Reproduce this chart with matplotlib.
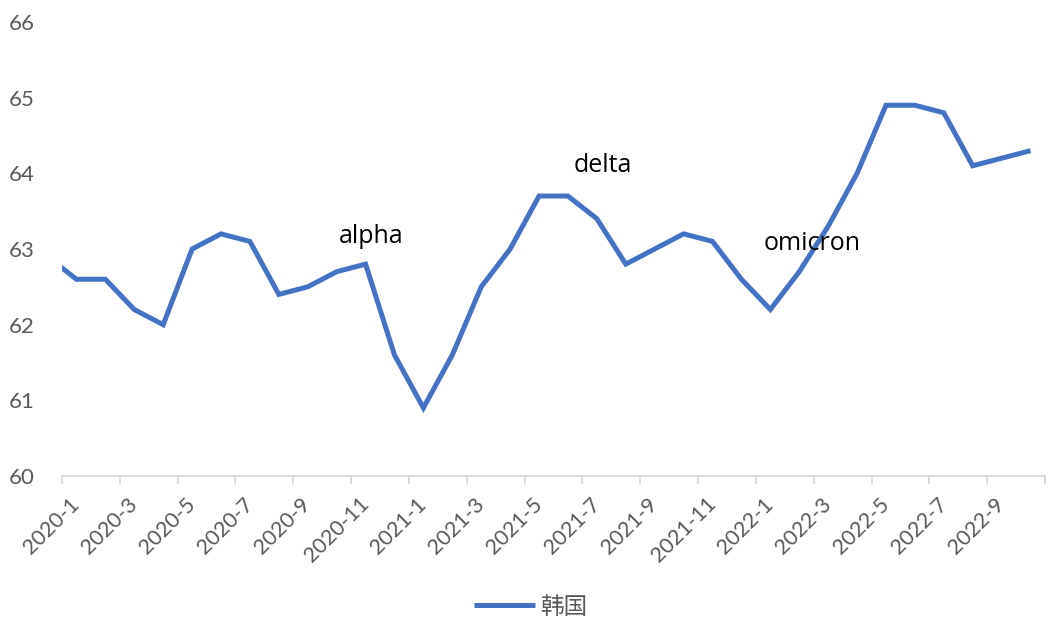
import numpy as np
import matplotlib.pyplot as plt

plt.rcParams["font.family"] = ["Lato", "Noto Sans CJK SC", "DejaVu Sans"]

# monthly values, 2019-12 is only partly visible at the left edge
months = ["2019-12"] + [f"{y}-{m}" for y in (2020, 2021, 2022) for m in range(1, 13)][:34]
values = [62.9,
          62.6, 62.6, 62.2, 62.0, 63.0, 63.2, 63.1, 62.4, 62.5, 62.7, 62.8, 61.6,
          60.9, 61.6, 62.5, 63.0, 63.7, 63.7, 63.4, 62.8, 63.0, 63.2, 63.1, 62.6,
          62.2, 62.7, 63.3, 64.0, 64.9, 64.9, 64.8, 64.1, 64.2, 64.3]
series_name = "韩国"
notes = ["alpha", "delta", "omicron"]
note_months = ["2020-11", "2021-7", "2022-2"]
note_levels = [63.16, 64.11, 63.07]

x = np.arange(len(months)) - 1  # 2020-1 -> 0

fig = plt.figure(figsize=(10.51, 6.2), dpi=100)
ax = fig.add_axes([62 / 1051, 1 - 476 / 620, (1045 - 62) / 1051, (476 - 22) / 620])

line, = ax.plot(x, values, color="#4472C4", lw=3.6, solid_joinstyle="miter",
                solid_capstyle="butt", label=series_name)

ax.set_xlim(-0.5, 33.5)
ax.set_ylim(60, 66)
ax.set_yticks(range(60, 67))
ax.tick_params(axis="y", length=0, pad=19.5, labelsize=16, labelcolor="#595959")

lab_idx = [i for i in range(0, 34, 2)]
ax.set_xticks(lab_idx)
ax.set_xticklabels([months[i + 1] for i in lab_idx], rotation=45, ha="right",
                   va="center", rotation_mode="anchor", fontsize=15.5, color="#595959")
ax.tick_params(axis="x", which="major", length=0, pad=18)
ax.set_xticks(np.arange(-0.5, 34, 2).tolist() + [33.5], minor=True)
ax.tick_params(axis="x", which="minor", length=6, width=1.3, color="#d9d9d9")

for s in ("top", "right", "left"):
    ax.spines[s].set_visible(False)
ax.spines["bottom"].set_color("#d9d9d9")
ax.spines["bottom"].set_linewidth(1.3)

note_shift = [0.2, 0.2, 0.45]
for txt, m, lvl, dx in zip(notes, note_months, note_levels, note_shift):
    xi = months.index(m) - 1
    ax.text(xi + dx, lvl, txt, ha="center", va="center", fontsize=18, color="black",
            family=["Open Sans", "DejaVu Sans"])

fig.legend(handles=[line], loc="center", bbox_to_anchor=(0.505, 1 - 607 / 620),
           frameon=False, labelcolor="#595959", handlelength=2.6,
           handletextpad=0.2, prop={"family": ["Noto Sans CJK SC"], "size": 17})

fig.savefig("out.png", dpi=100)
